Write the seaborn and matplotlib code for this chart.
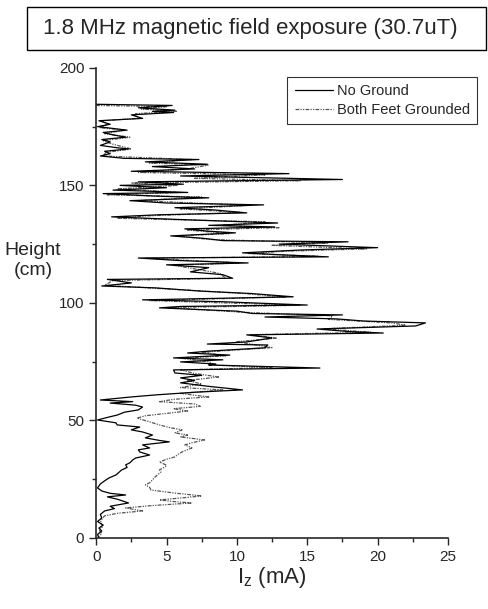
import pandas as pd
import matplotlib.pyplot as plt
import seaborn as sns
from matplotlib.patches import Rectangle
from matplotlib.ticker import MultipleLocator

# Data: height (cm) and induced current Iz (mA)
height_no_ground = [
    184.5, 184, 183, 182, 181.5, 181, 180, 178.5, 177.5, 176, 175, 174, 173.5, 172.5,
    171.5, 170.5, 169.5, 168.5, 167, 166, 165.5, 164.5, 163.5, 162.5, 161.5, 161, 160,
    159, 158, 157, 156, 155, 154, 152.5, 151.5, 150.5, 150, 149, 148, 147, 146.5, 145.5,
    144.7, 143.5, 142.5, 141.7, 140.5, 139.5, 138.3, 137.5, 136.6, 135.5, 134, 133,
    132.3, 131.5, 130.5, 129.8, 128.5, 127.5, 126.5, 126, 125, 123.5, 122.5, 121.3,
    120.5, 119.6, 119.1, 118, 117, 116.2, 115, 113.2, 112, 110.5, 110, 108.5, 107.2,
    106.4, 105, 104, 102.6, 101.3, 100.5, 99.1, 98.5, 97.9, 96.5, 95.5, 94.9, 94, 93.2,
    92.3, 91.5, 90.2, 88.9, 87.8, 87.2, 86.4, 85.1, 83.4, 82.5, 82.1, 80.9, 79.5, 78.7,
    77.8, 76.6, 75.8, 74.9, 74, 73.6, 72.3, 71.5, 70.2, 69.2, 68.1, 67, 66, 64.5, 63,
    62, 60.9, 60, 58.7, 58, 57.4, 56.5, 55.7, 54.5, 53.5, 52.3, 51.3, 50.2, 49, 48.1,
    47.2, 46, 45.1, 43.8, 42.6, 41.5, 40.9, 39.6, 38.3, 37.5, 36.6, 35.3, 34, 33.2, 32,
    31.1, 30, 28.9, 27.8, 26.8, 25.5, 24.3, 23, 21.3, 20, 19, 18.3, 17.5, 16.5, 14.9,
    13.5, 12.5, 11.5, 10, 8.5, 7, 5.5, 4.2, 3, 1.5, 0,
]
iz_no_ground = [
    0.0, 5.4, 3.0, 5.6, 4.0, 5.5, 2.5, 3.3, 0.2, 1.0, 0.1, 1.5, 2.2, 0.5,
    1.2, 2.1, 0.4, 1.0, 0.3, 1.5, 2.3, 0.6, 1.0, 0.3, 2.0, 7.3, 3.5,
    7.9, 4.0, 7.0, 2.5, 13.7, 6.0, 17.5, 3.0, 6.2, 1.7, 5.0, 1.2, 6.5, 0.5, 4.0,
    8.0, 2.4, 5.0, 11.9, 5.6, 8.5, 10.7, 4.5, 1.1, 5.8, 12.9, 8.0,
    12.7, 6.3, 8.0, 9.9, 5.3, 7.6, 9.0, 17.9, 13.0, 20.0, 14.5, 10.4,
    13.0, 16.5, 3.0, 6.0, 10.8, 5.0, 8.0, 6.7, 9.0, 9.7, 0.8, 2.5, 0.4,
    4.2, 7.5, 11.0, 14.0, 3.3, 9.0, 15.0, 6.0, 4.5, 10.0, 11.1, 17.5, 12.0, 17.1,
    19.0, 23.4, 22.7, 15.7, 18.0, 20.4, 10.7, 12.5, 10.7, 7.9, 12.2, 12.0, 8.0, 6.5,
    9.5, 5.5, 9.0, 6.0, 8.5, 8.0, 15.9, 5.5, 5.6, 7.5, 6.0, 7.0, 6.0, 8.0, 10.4,
    7.0, 4.3, 2.5, 0.3, 2.6, 1.0, 2.8, 3.3, 3.0, 2.0, 1.5, 0.8, 0.1, 1.4, 1.5,
    3.1, 2.5, 3.3, 4.0, 3.5, 4.5, 5.2, 3.3, 3.8, 3.0, 3.1, 3.8, 2.8, 2.6, 2.4,
    2.1, 2.2, 1.8, 1.6, 1.4, 0.9, 0.6, 0.3, 0.1, 0.4, 1.0, 2.1, 0.8, 1.5, 2.3,
    1.0, 1.3, 0.6, 0.3, 0.4, 0.1, 0.5, 0.2, 0.4, 0.1, 0.2,
]

height_grounded = [
    184, 183.5, 182.5, 181.5, 180.5, 178.5, 177.5, 176, 174.5, 173.5, 172, 170.5, 169,
    167.5, 165.5, 164, 162.5, 161, 159.5, 158.7, 157, 155.5, 154.5, 153, 152, 151, 150,
    148.5, 147, 146, 145, 143.5, 141.5, 140, 138.5, 137, 136, 134.5, 133, 132, 131,
    129.5, 128.5, 127, 125.5, 124.5, 123, 122, 121, 119.8, 119, 117, 116, 114, 112.5,
    110.5, 109.5, 107.5, 106, 104, 102.5, 101, 99, 98, 96, 94.5, 93, 91.5, 90.5, 89,
    87.5, 86.5, 85, 83.5, 82, 81, 79, 77.5, 76.5, 75, 73.5, 72.5, 71.5, 70, 68.5, 67,
    65.5, 64, 63, 61.5, 60, 59, 58, 57, 56, 55, 54, 53, 52, 51, 49.4, 48.1, 47, 46,
    44.7, 43.8, 43, 41.7, 40.5, 39.6, 38.3, 36.6, 35.5, 34.5, 33.5, 32.3, 31, 30.2, 29,
    28.1, 27, 26, 24.7, 23.5, 22.6, 21.5, 20.4, 19.1, 17.9, 17, 16.2, 15.5, 14.9, 13.8,
    12.8, 11.5, 10.5, 9.4, 8, 6.5, 5, 3.5, 2, 0,
]
iz_grounded = [
    0.0, 5.0, 3.2, 5.7, 2.8, 3.0, 0.4, 0.8, 0.3, 2.0, 0.6, 2.4, 0.5,
    1.2, 2.5, 0.7, 0.5, 6.8, 3.8, 8.0, 6.5, 3.0, 12.0, 7.0, 14.5, 2.5, 5.8,
    1.5, 6.0, 0.8, 7.5, 3.0, 11.0, 6.0, 10.2, 3.5, 1.5, 12.0, 9.0, 13.0, 6.5,
    9.5, 5.8, 8.0, 16.5, 12.5, 19.2, 13.5, 10.8, 15.8, 3.5, 10.2, 5.5, 7.5, 8.8,
    9.2, 1.2, 0.6, 4.8, 10.5, 13.5, 3.8, 14.5, 5.0, 10.5, 16.8, 16.5, 21.0, 22.0, 16.2,
    19.5, 11.0, 12.8, 10.0, 11.5, 12.5, 7.5, 9.2, 6.0, 8.0, 8.5, 12.5, 6.0, 7.0, 8.7, 6.5,
    7.5, 6.0, 9.0, 6.0, 8.0, 5.5, 4.5, 7.0, 7.4, 5.5, 6.5, 5.0, 3.5, 2.9, 3.8, 4.5, 5.2, 6.1,
    5.6, 6.5, 6.0, 7.7, 6.8, 6.3, 6.8, 6.1, 5.8, 5.6, 5.0, 4.5, 5.0, 4.9, 4.5,
    4.6, 4.4, 4.2, 4.0, 3.8, 3.5, 3.8, 3.9, 5.6, 7.5, 6.0, 4.5, 5.5, 6.8, 4.0,
    2.1, 3.3, 1.5, 0.6, 0.4, 0.3, 0.5, 0.2, 0.4, 0.1,
]

df_no = pd.DataFrame({"Iz": iz_no_ground, "Height": height_no_ground})
df_gr = pd.DataFrame({"Iz": iz_grounded, "Height": height_grounded})

sns.set_style("ticks")
plt.rcParams["font.family"] = ["Liberation Sans", "DejaVu Sans"]

fig = plt.figure(figsize=(4.88, 6.09), dpi=100)
ax = fig.add_axes([0.197, 0.1166, 0.721, 0.772])

sns.lineplot(data=df_gr, x="Iz", y="Height", sort=False, estimator=None,
             color="#555555", linewidth=0.9, ax=ax, label="Both Feet Grounded",
             linestyle=(0, (3, 1, 1, 1, 1, 1)))
sns.lineplot(data=df_no, x="Iz", y="Height", sort=False, estimator=None,
             color="black", linewidth=0.9, ax=ax, label="No Ground")

ax.set_xlim(0, 25)
ax.set_ylim(0, 200)
ax.xaxis.set_major_locator(MultipleLocator(5))
ax.xaxis.set_minor_locator(MultipleLocator(2.5))
ax.yaxis.set_major_locator(MultipleLocator(50))
ax.yaxis.set_minor_locator(MultipleLocator(25))
ax.tick_params(which="major", length=5, width=1, labelsize=11, direction="out")
ax.tick_params(which="minor", length=3, width=1, direction="out")
sns.despine(ax=ax)
for s in ["left", "bottom"]:
    ax.spines[s].set_linewidth(1.2)

ax.set_xlabel("I$_\\mathregular{z}$ (mA)", fontsize=16, labelpad=1)
ax.set_ylabel("")
fig.text(0.068, 0.572, "Height\n(cm)", ha="center", va="center", fontsize=14)

# legend order: No Ground first
handles, labels = ax.get_legend_handles_labels()
leg = ax.legend(handles[::-1], labels[::-1], loc="upper right",
                bbox_to_anchor=(0.993, 0.886), bbox_transform=fig.transFigure,
                fontsize=10.5, frameon=True, fancybox=False, edgecolor="black",
                handlelength=2.6, handletextpad=0.3, borderpad=0.5, labelspacing=0.35)
leg.get_frame().set_linewidth(0.8)

# title box
fig.patches.append(Rectangle((0.055, 0.918), 0.94, 0.071, transform=fig.transFigure,
                             fill=False, edgecolor="black", linewidth=1))
fig.text(0.512, 0.953, "1.8 MHz magnetic field exposure (30.7uT)",
         ha="center", va="center", fontsize=16)

plt.savefig("out.png", dpi=100)
